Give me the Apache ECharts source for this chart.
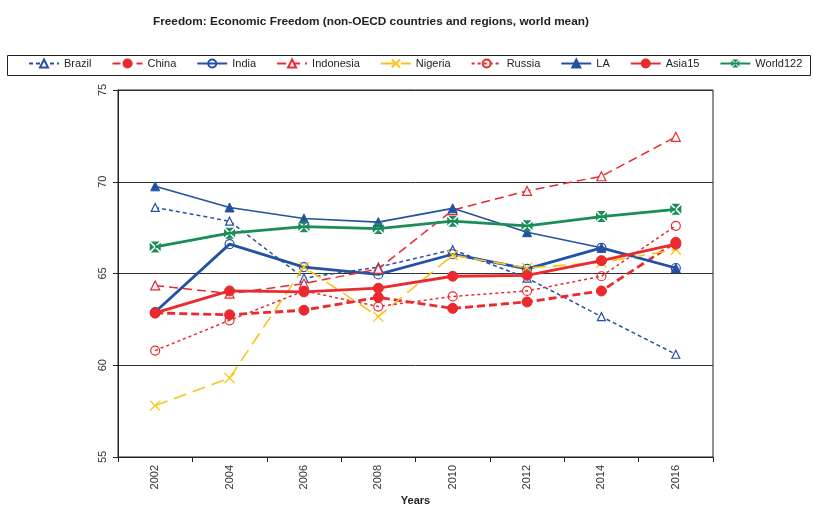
<!DOCTYPE html>
<html>
<head>
<meta charset="utf-8">
<script src="https://cdn.jsdelivr.net/npm/echarts@6/dist/echarts.min.js"></script>
<style>
  html, body { margin: 0; padding: 0; background: #fff; }
  #chart { width: 813px; height: 505px; }
</style>
</head>
<body>
<div id="chart"></div>
<script>
// Economic freedom scores, 2002-2016
const years = ['2002', '2004', '2006', '2008', '2010', '2012', '2014', '2016'];
const brazil    = [68.6, 67.85, 64.75, 65.35, 66.3, 64.75, 62.65, 60.6];
const china     = [62.85, 62.75, 63.0, 63.7, 63.1, 63.45, 64.05, 66.7];
const india     = [62.9, 66.6, 65.35, 64.95, 66.05, 65.25, 66.4, 65.3];
const indonesia = [64.35, 63.9, 64.45, 65.25, 68.45, 69.5, 70.3, 72.45];
const nigeria   = [57.8, 59.3, 65.35, 62.65, 66.0, 65.3, 65.6, 66.3];
const russia    = [60.8, 62.45, 64.05, 63.2, 63.75, 64.05, 64.85, 67.6];
const la        = [69.75, 68.6, 68.0, 67.8, 68.55, 67.25, 66.4, 65.3];
const asia15    = [62.85, 64.05, 64.0, 64.2, 64.85, 64.9, 65.7, 66.6];
const world122  = [66.45, 67.2, 67.55, 67.45, 67.85, 67.6, 68.1, 68.5];

const yTicks = { min: 55, max: 75, step: 5 };

const BLUE = '#2451a4';
const RED = '#ea2a2e';
const YELLOW = '#f8c41c';
const GREEN = '#1b8d58';

const FONT = '"Liberation Sans", Arial, sans-serif';

// X-shaped marker and a square with a white cross cut out
const crossPath = 'path://M0,0L10,10M10,0L0,10';
const boxCrossPath = 'path://M1,0L9,0L5,4Z M10,1L10,9L6,5Z M9,10L1,10L5,6Z M0,9L0,1L4,5Z';

function line(name, data, opt) {
  return Object.assign({
    name: name,
    type: 'line',
    data: data,
    symbolSize: 8,
    showSymbol: true,
    animation: false,
    z: 2
  }, opt);
}

const series = [
  line('Brazil', brazil, {
    symbol: 'triangle', symbolSize: 8,
    lineStyle: { color: BLUE, width: 1.5, type: [4, 3] },
    itemStyle: { color: '#fff', borderColor: BLUE, borderWidth: 1.2 }
  }),
  line('China', china, {
    symbol: 'circle', symbolSize: 10,
    lineStyle: { color: RED, width: 2.8, type: [8, 4] },
    itemStyle: { color: RED, borderColor: RED, borderWidth: 1 }
  }),
  line('India', india, {
    symbol: 'circle', symbolSize: 9,
    lineStyle: { color: BLUE, width: 2.8 },
    itemStyle: { color: 'rgba(255,255,255,0)', borderColor: BLUE, borderWidth: 1.2 }
  }),
  line('Indonesia', indonesia, {
    symbol: 'triangle', symbolSize: 9,
    lineStyle: { color: RED, width: 1.5, type: [9, 5] },
    itemStyle: { color: '#fff', borderColor: RED, borderWidth: 1.2 }
  }),
  line('Nigeria', nigeria, {
    symbol: crossPath, symbolSize: 10,
    lineStyle: { color: YELLOW, width: 1.6, type: [13, 7] },
    itemStyle: { color: YELLOW, borderColor: YELLOW, borderWidth: 1.4 }
  }),
  line('Russia', russia, {
    symbol: 'circle', symbolSize: 9,
    lineStyle: { color: RED, width: 1.5, type: [3, 3] },
    itemStyle: { color: 'rgba(255,255,255,0)', borderColor: RED, borderWidth: 1.2 }
  }),
  line('LA', la, {
    symbol: 'triangle', symbolSize: 9,
    lineStyle: { color: BLUE, width: 1.6 },
    itemStyle: { color: BLUE, borderColor: BLUE, borderWidth: 1 }
  }),
  line('Asia15', asia15, {
    symbol: 'circle', symbolSize: 10,
    lineStyle: { color: RED, width: 2.8 },
    itemStyle: { color: RED, borderColor: RED, borderWidth: 1 }
  }),
  line('World122', world122, {
    symbol: boxCrossPath, symbolSize: 11,
    lineStyle: { color: GREEN, width: 2.8 },
    itemStyle: { color: GREEN, borderWidth: 0 }
  })
];

const chart = echarts.init(document.getElementById('chart'), null, { renderer: 'canvas' });

chart.setOption({
  backgroundColor: '#fff',
  animation: false,
  textStyle: { fontFamily: FONT },
  title: {
    text: 'Freedom: Economic Freedom (non-OECD countries and regions, world mean)',
    left: 148,
    top: 11,
    textStyle: { fontFamily: FONT, fontSize: 11.8, fontWeight: 'bold', color: '#222' }
  },
  // frame around the legend row
  graphic: [{
    type: 'rect',
    left: 5, top: 53,
    shape: { width: 803, height: 20 },
    style: { fill: 'none', stroke: '#222', lineWidth: 1 },
    silent: true
  }],
  legend: {
    data: series.map(s => s.name),
    left: 23,
    top: 53,
    width: 790,
    padding: [5, 5, 5, 5],
    itemGap: 20,
    itemWidth: 30,
    itemHeight: 10,
    textStyle: { fontFamily: FONT, fontSize: 11, color: '#222', padding: [0, 0, 0, 0] }
  },
  grid: {
    left: 118, right: 100, top: 90, bottom: 48,
    outerBoundsMode: 'none',
    containLabel: false,
    show: true, borderColor: '#222', borderWidth: 1, backgroundColor: 'transparent'
  },
  xAxis: {
    type: 'category',
    data: years,
    boundaryGap: true,
    name: 'Years',
    nameLocation: 'middle',
    nameGap: 38,
    nameMoveOverlap: false,
    nameTextStyle: { fontFamily: FONT, fontSize: 11, fontWeight: 'bold', color: '#222' },
    axisLine: { lineStyle: { color: '#222', width: 1 } },
    axisTick: { show: true, length: 5, inside: false, lineStyle: { color: '#222' } },
    axisLabel: { rotate: 90, fontSize: 11, color: '#333', margin: 8, fontFamily: FONT },
    splitLine: { show: false }
  },
  yAxis: {
    type: 'value',
    min: yTicks.min,
    max: yTicks.max,
    interval: yTicks.step,
    axisLine: { show: true, lineStyle: { color: '#222', width: 1 } },
    axisTick: { show: true, length: 5, inside: false, lineStyle: { color: '#222' } },
    axisLabel: { rotate: 90, fontSize: 11, color: '#333', margin: 10, fontFamily: FONT },
    splitLine: { show: true, lineStyle: { color: '#333', width: 1 } }
  },
  series: series
});
</script>
</body>
</html>
